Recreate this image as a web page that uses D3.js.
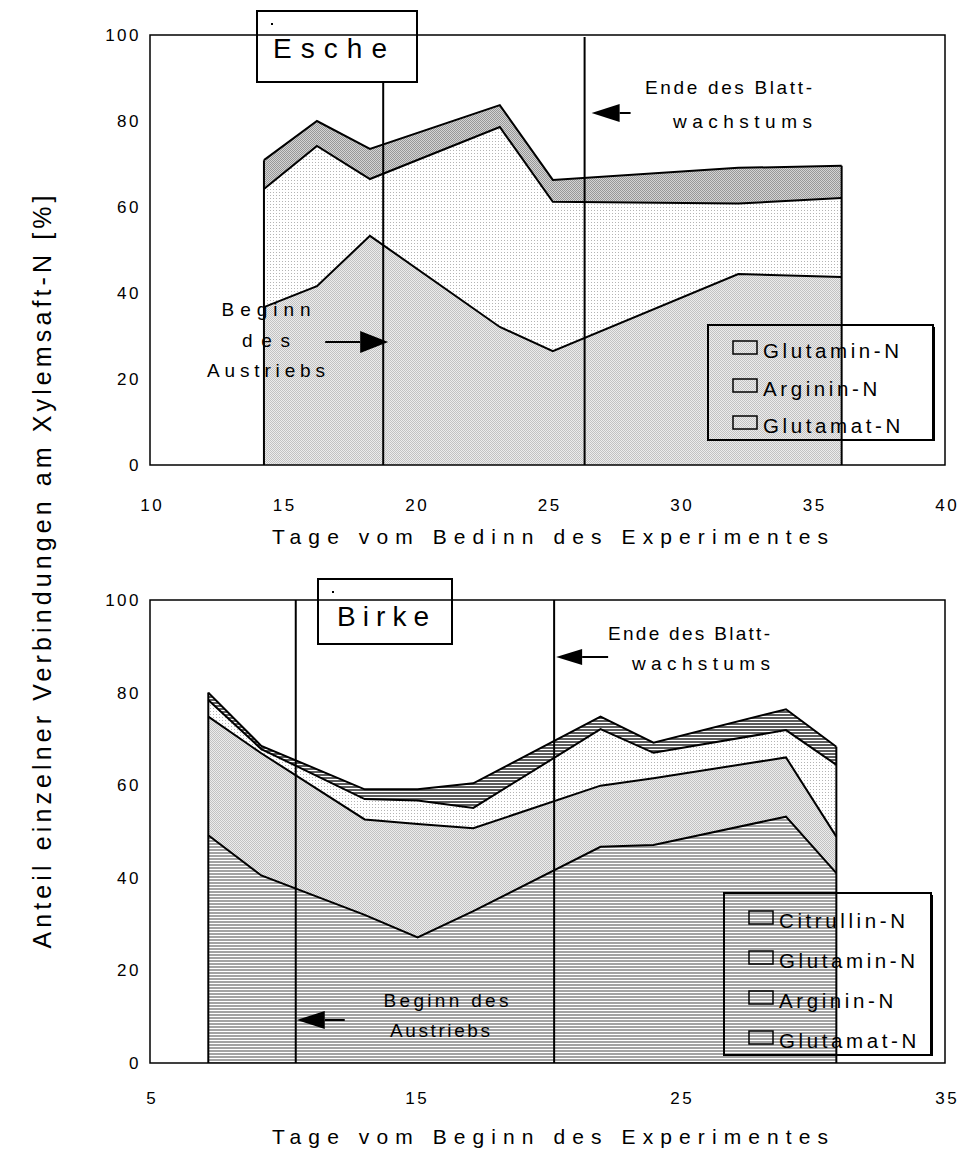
<!DOCTYPE html>
<html>
<head>
<meta charset="utf-8">
<script src="https://cdnjs.cloudflare.com/ajax/libs/d3/7.8.5/d3.min.js"></script>
<style>
  body { margin: 0; background: #fff; }
  svg text { font-family: "Liberation Sans", Arial, sans-serif; fill: #000; }
</style>
</head>
<body>
<svg id="chart" width="960" height="1153"></svg>
<script>
// Esche - days and N share of each compound (stacked, bottom first)
var escheDays = [14.3, 16.3, 18.3, 23.2, 25.2, 32.2, 36.1];
var escheGlutamat = [36.7, 41.6, 53.3, 32.1, 26.5, 44.4, 43.7];
var escheArginin = [27.5, 32.6, 13.2, 46.5, 34.7, 16.4, 18.4];
var escheGlutamin = [6.7, 5.8, 7.0, 5.1, 5.1, 8.3, 7.5];
var escheEvents = [18.8, 26.4];   // Beginn des Austriebs, Ende des Blattwachstums
var escheXTicks = [10, 15, 20, 25, 30, 35, 40];

// Birke
var birkeDays = [7.2, 9.2, 13.1, 15.1, 17.2, 22.0, 24.0, 29.0, 30.9];
var birkeGlutamat = [49.2, 40.5, 32.0, 27.1, 32.8, 46.7, 47.1, 53.2, 41.0];
var birkeArginin = [25.6, 26.4, 20.6, 24.5, 17.9, 13.2, 14.4, 12.8, 7.9];
var birkeGlutamin = [3.6, 0.9, 4.4, 5.1, 4.4, 12.2, 5.5, 5.9, 15.5];
var birkeCitrullin = [1.6, 0.7, 2.1, 2.4, 5.3, 2.7, 2.2, 4.5, 3.9];
var birkeEvents = [10.5, 20.25];
var birkeXTicks = [5, 15, 25, 35];

var yTicks = [0, 20, 40, 60, 80, 100];

var svg = d3.select("#chart");
var defs = svg.append("defs");

//fill patterns imitating the old greyscale screens
function dotPattern(id, size, bg, fg, dots) {
  var p = defs.append("pattern").attr("id", id)
      .attr("patternUnits", "userSpaceOnUse")
      .attr("width", size).attr("height", size);
  p.append("rect").attr("width", size).attr("height", size).attr("fill", bg);
  dots.forEach(function(d) {
    p.append("rect").attr("x", d[0]).attr("y", d[1]).attr("width", 1).attr("height", 1).attr("fill", fg);
  });
}
function stripePattern(id, color) {
  var p = defs.append("pattern").attr("id", id)
      .attr("patternUnits", "userSpaceOnUse")
      .attr("width", 4).attr("height", 3);
  p.append("rect").attr("width", 4).attr("height", 3).attr("fill", "#fff");
  p.append("rect").attr("width", 4).attr("height", 2).attr("fill", color);
}
dotPattern("dotsMid", 2, "#ececec", "#c2c2c2", [[0, 0], [1, 1]]);
dotPattern("dotsLight", 3, "#ffffff", "#b4b4b4", [[0, 0]]);
dotPattern("dotsDark", 2, "#d4d4d4", "#989898", [[0, 0], [1, 1]]);
stripePattern("stripes", "#a2a2a2");
stripePattern("stripesDark", "#5c5c5c");

function spacedText(g, x, y, str, size, len, anchor) {
  var t = g.append("text").attr("x", x).attr("y", y)
      .attr("font-size", size)
      .attr("text-anchor", anchor || "start")
      .text(str);
  if (len) t.attr("textLength", len).attr("lengthAdjust", "spacing");
  return t;
}

function arrow(g, tipX, y, dir, headLen, halfH, tail) {
  // dir = 1 points right, -1 points left
  var base = tipX - dir * headLen;
  g.append("line").attr("x1", base).attr("x2", base - dir * tail)
      .attr("y1", y).attr("y2", y).attr("stroke", "#000").attr("stroke-width", 2);
  g.append("path")
      .attr("d", "M" + tipX + "," + y + "L" + base + "," + (y - halfH) + "L" + base + "," + (y + halfH) + "Z")
      .attr("fill", "#000");
}

function drawStack(g, x, y, days, layers) {
  var rows = days.map(function(d, i) {
    var r = { day: d };
    layers.forEach(function(l) { r[l.key] = l.values[i]; });
    return r;
  });
  var series = d3.stack().keys(layers.map(function(l) { return l.key; }))(rows);

  var area = d3.area()
      .x(function(d) { return x(d.data.day); })
      .y0(function(d) { return y(d[0]); })
      .y1(function(d) { return y(d[1]); });
  var line = d3.line()
      .x(function(d) { return x(d.data.day); })
      .y(function(d) { return y(d[1]); });

  g.selectAll("path.layer").data(series).join("path")
      .attr("class", "layer")
      .attr("d", area)
      .attr("fill", function(d, i) { return "url(#" + layers[i].fill + ")"; });

  g.selectAll("path.edge").data(series).join("path")
      .attr("class", "edge")
      .attr("d", line)
      .attr("fill", "none")
      .attr("stroke", "#000")
      .attr("stroke-width", 2)
      .attr("stroke-linejoin", "miter");

  //outer vertical edges
  var top = series[series.length - 1];
  [0, days.length - 1].forEach(function(i) {
    g.append("line")
        .attr("x1", x(days[i])).attr("x2", x(days[i]))
        .attr("y1", y(0)).attr("y2", y(top[i][1]))
        .attr("stroke", "#000").attr("stroke-width", 2);
  });
}

function drawAxes(g, x, y, xTicks, xPad) {
  var x0 = x.range()[0], x1 = x.range()[1], y0 = y.range()[0], y1 = y.range()[1];
  g.append("rect").attr("x", x0).attr("y", y1)
      .attr("width", x1 - x0).attr("height", y0 - y1)
      .attr("fill", "none").attr("stroke", "#000").attr("stroke-width", 1.5);

  var ya = g.append("g").attr("transform", "translate(" + x0 + ",0)")
      .call(d3.axisLeft(y).tickValues(yTicks).tickSize(0).tickPadding(9));
  var xa = g.append("g").attr("transform", "translate(0," + y0 + ")")
      .call(d3.axisBottom(x).tickValues(xTicks).tickSize(0).tickPadding(xPad));
  [ya, xa].forEach(function(a) {
    a.select(".domain").remove();
    a.selectAll("text")
        .attr("font-family", "Liberation Sans, Arial, sans-serif")
        .attr("font-size", 17)
        .attr("letter-spacing", 2.5);
  });
  xa.selectAll("text").attr("dx", "0.1em");
}

function legend(g, x, y, w, h, names, rowY) {
  g.append("rect").attr("x", x).attr("y", y).attr("width", w).attr("height", h)
      .attr("fill", "none").attr("stroke", "#000").attr("stroke-width", 2);
  g.append("line").attr("x1", x + w + 1).attr("x2", x + w + 1)
      .attr("y1", y + 2).attr("y2", y + h + 1).attr("stroke", "#000").attr("stroke-width", 2);
  names.forEach(function(n, i) {
    g.append("rect").attr("x", x + 25).attr("y", rowY[i] - 17)
        .attr("width", 24).attr("height", 13)
        .attr("fill", "none").attr("stroke", "#000").attr("stroke-width", 1.5);
    g.append("text").attr("x", x + 46 + 9).attr("y", rowY[i])
        .attr("font-size", 20.5).attr("letter-spacing", 3.6).text(n);
  });
}

//---------- Esche ----------
var xE = d3.scaleLinear().domain([10, 40]).range([150, 945]);
var yE = d3.scaleLinear().domain([0, 100]).range([465, 35]);
var gE = svg.append("g");

drawStack(gE, xE, yE, escheDays, [
  { key: "Glutamat-N", values: escheGlutamat, fill: "dotsMid" },
  { key: "Arginin-N", values: escheArginin, fill: "dotsLight" },
  { key: "Glutamin-N", values: escheGlutamin, fill: "dotsDark" }
]);

legend(gE, 708, 325, 225, 115, ["Glutamin-N", "Arginin-N", "Glutamat-N"], [358, 396, 433]);

//event lines
gE.append("line").attr("x1", xE(escheEvents[0])).attr("x2", xE(escheEvents[0]))
    .attr("y1", 82).attr("y2", yE(0)).attr("stroke", "#000").attr("stroke-width", 2);
gE.append("line").attr("x1", xE(escheEvents[1])).attr("x2", xE(escheEvents[1]))
    .attr("y1", yE(100) + 2).attr("y2", yE(0)).attr("stroke", "#000").attr("stroke-width", 2);

drawAxes(gE, xE, yE, escheXTicks, 34);

//title box
gE.append("rect").attr("x", 257).attr("y", 11).attr("width", 160).attr("height", 71)
    .attr("fill", "none").attr("stroke", "#000").attr("stroke-width", 2);
gE.append("rect").attr("x", 271).attr("y", 23).attr("width", 2).attr("height", 2).attr("fill", "#000");
spacedText(gE, 273, 58, "Esche", 28, 114);

spacedText(gE, 812, 94, "Ende des Blatt-", 19, 167, "end");
spacedText(gE, 812, 128, "wachstums", 19, 139, "end");
arrow(gE, xE(escheEvents[1]) + 7, 113, -1, 28, 9, 11);

spacedText(gE, 266, 316, "Beginn", 19, 89, "middle");
spacedText(gE, 266, 347, "des", 19, 48, "middle");
spacedText(gE, 266, 377, "Austriebs", 19, 118, "middle");
arrow(gE, xE(escheEvents[0]) + 5, 342, 1, 28, 11, 35);

spacedText(gE, 272, 544, "Tage vom Bedinn des Experimentes", 21, 556);

//---------- Birke ----------
var xB = d3.scaleLinear().domain([5, 35]).range([150, 945]);
var yB = d3.scaleLinear().domain([0, 100]).range([1063, 600]);
var gB = svg.append("g");

drawStack(gB, xB, yB, birkeDays, [
  { key: "Glutamat-N", values: birkeGlutamat, fill: "stripes" },
  { key: "Arginin-N", values: birkeArginin, fill: "dotsMid" },
  { key: "Glutamin-N", values: birkeGlutamin, fill: "dotsLight" },
  { key: "Citrullin-N", values: birkeCitrullin, fill: "stripesDark" }
]);

legend(gB, 724, 893, 207, 162, ["Citrullin-N", "Glutamin-N", "Arginin-N", "Glutamat-N"], [928, 968, 1008, 1048]);

birkeEvents.forEach(function(e) {
  gB.append("line").attr("x1", xB(e)).attr("x2", xB(e))
      .attr("y1", yB(100)).attr("y2", yB(0)).attr("stroke", "#000").attr("stroke-width", 2);
});

drawAxes(gB, xB, yB, birkeXTicks, 29);

gB.append("rect").attr("x", 318).attr("y", 579).attr("width", 134).attr("height", 65)
    .attr("fill", "#fff").attr("stroke", "#000").attr("stroke-width", 2);
gB.append("line").attr("x1", 318).attr("x2", 452).attr("y1", 600).attr("y2", 600)
    .attr("stroke", "#000").attr("stroke-width", 1.5);
gB.append("rect").attr("x", 332).attr("y", 591).attr("width", 2).attr("height", 2).attr("fill", "#000");
spacedText(gB, 337, 626, "Birke", 28, 92);

spacedText(gB, 770, 640, "Ende des Blatt-", 19, 162, "end");
spacedText(gB, 770, 670, "wachstums", 19, 138, "end");
arrow(gB, xB(birkeEvents[1]) + 2, 657, -1, 26, 8, 26);

spacedText(gB, 446, 1007, "Beginn des", 19, 125, "middle");
spacedText(gB, 440, 1037, "Austriebs", 19, 100, "middle");
arrow(gB, xB(birkeEvents[0]) + 1, 1020, -1, 28, 9, 20);

spacedText(gB, 272, 1144, "Tage vom Beginn des Experimentes", 21, 556);

//shared y title
svg.append("text")
    .attr("transform", "translate(51,572) rotate(-90)")
    .attr("text-anchor", "middle")
    .attr("font-size", 25)
    .attr("textLength", 753).attr("lengthAdjust", "spacing")
    .text("Anteil einzelner Verbindungen am Xylemsaft-N [%]");
</script>
</body>
</html>
